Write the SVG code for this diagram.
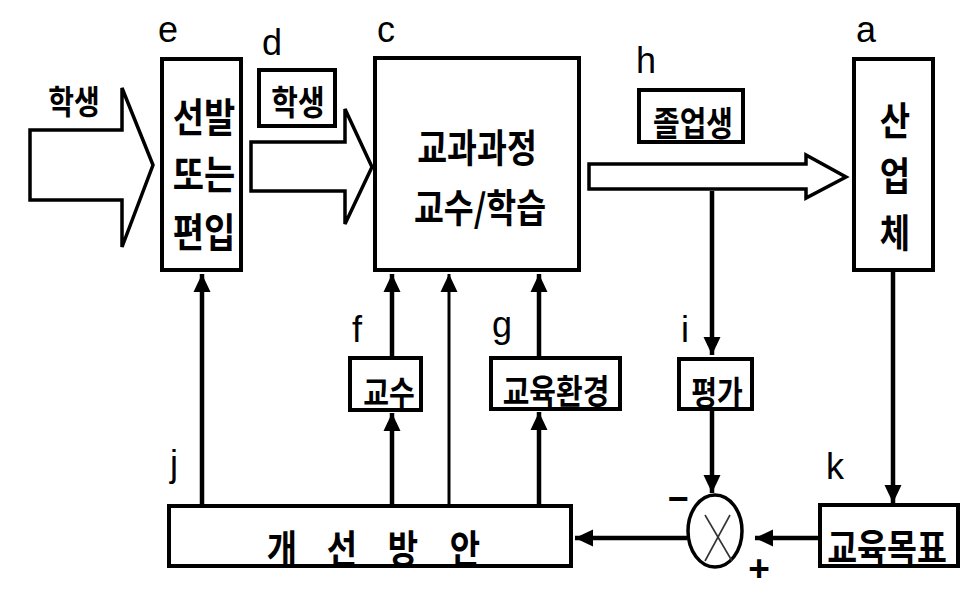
<svg xmlns="http://www.w3.org/2000/svg" width="973" height="589" viewBox="0 0 973 589">
<defs>
<style>
.bx{fill:#fff;stroke:#000;stroke-width:4}
.blk{fill:#fff;stroke:#000;stroke-width:3.5;stroke-linejoin:miter}
.ln{fill:none;stroke:#000;stroke-width:4.5}
.thin{fill:none;stroke:#000;stroke-width:3}
.ko{font-family:"Noto Sans CJK KR","Noto Sans",sans-serif;font-weight:700;text-anchor:middle;dominant-baseline:central;fill:#000}
.lt{font-family:"Liberation Sans",Arial,sans-serif;font-size:36px;text-anchor:middle;fill:#000}
.sg{font-family:"Liberation Sans",Arial,sans-serif;font-weight:700;text-anchor:middle;dominant-baseline:central;fill:#000}
</style>
<marker id="ah" markerUnits="userSpaceOnUse" markerWidth="20" markerHeight="20" refX="18" refY="9" orient="auto">
<path d="M0,0.5 L18,9 L0,17.5 Z" fill="#000"/>
</marker>
</defs>
<rect width="973" height="589" fill="#fff"/>

<g id="connectors">
<line class="ln" x1="202" y1="504" x2="202" y2="274" marker-end="url(#ah)"/>
<line class="ln" x1="392" y1="504" x2="392" y2="413" marker-end="url(#ah)"/>
<line class="ln" x1="392" y1="356" x2="392" y2="274" marker-end="url(#ah)"/>
<line class="thin" x1="449" y1="504" x2="449" y2="274" marker-end="url(#ah)"/>
<line class="ln" x1="539" y1="504" x2="539" y2="412" marker-end="url(#ah)"/>
<line class="ln" x1="539" y1="356" x2="539" y2="274" marker-end="url(#ah)"/>
<line class="ln" x1="712" y1="191" x2="712" y2="355" marker-end="url(#ah)"/>
<line class="ln" x1="712" y1="411" x2="712" y2="493" marker-end="url(#ah)"/>
<line class="ln" x1="893" y1="272" x2="893" y2="503" marker-end="url(#ah)"/>
<line class="ln" x1="818" y1="538" x2="755" y2="538" marker-end="url(#ah)"/>
<line class="ln" x1="687" y1="538" x2="575" y2="538" marker-end="url(#ah)"/>
</g>

<g id="arrow-input">
<polygon class="blk" points="30,130 122,130 122,88 153,165 122,247 122,200 30,200"/>
<text class="ko" font-size="28" transform="translate(74,99) scale(1,1.18)">학생</text>
</g>

<g id="arrow-student">
<polygon class="blk" points="251,142 345,142 345,109 372,167 345,224 345,191 251,191"/>
</g>

<g id="arrow-graduate">
<polygon class="blk" points="589,164 806,164 806,155 846,177 806,198 806,189 589,189"/>
</g>

<g id="node-e">
<rect class="bx" x="162" y="59" width="79" height="211"/>
<text class="ko" font-size="34" transform="translate(204,115) scale(1,1.18)">선발</text>
<text class="ko" font-size="34" transform="translate(204,172) scale(1,1.18)">또는</text>
<text class="ko" font-size="34" transform="translate(204,230) scale(1,1.18)">편입</text>
<text class="lt" x="168" y="42">e</text>
</g>

<g id="node-d">
<rect class="bx" x="259" y="70" width="76" height="56"/>
<text class="ko" font-size="29" transform="translate(298,100) scale(1,1.18)">학생</text>
<text class="lt" x="272" y="55">d</text>
</g>

<g id="node-c">
<rect class="bx" x="375" y="58" width="204" height="212"/>
<text class="ko" font-size="32.5" transform="translate(477,145) scale(1,1.18)">교과과정</text>
<text class="ko" font-size="32.5" transform="translate(480,205) scale(1,1.18)">교수/학습</text>
<text class="lt" x="386" y="42">c</text>
</g>

<g id="node-h">
<rect class="bx" x="639" y="90" width="104" height="52"/>
<text class="ko" font-size="29" transform="translate(693,121) scale(1,1.18)">졸업생</text>
<text class="lt" x="646" y="73">h</text>
</g>

<g id="node-a">
<rect class="bx" x="854" y="59" width="79" height="211"/>
<text class="ko" font-size="33" transform="translate(895,118) scale(1,1.18)">산</text>
<text class="ko" font-size="33" transform="translate(895,173) scale(1,1.18)">업</text>
<text class="ko" font-size="33" transform="translate(895,230) scale(1,1.18)">체</text>
<text class="lt" x="866" y="42">a</text>
</g>

<g id="node-f">
<rect class="bx" x="350" y="358" width="71" height="52"/>
<text class="ko" font-size="28" transform="translate(389,390) scale(1,1.18)">교수</text>
<text class="lt" x="357" y="342">f</text>
</g>

<g id="node-g">
<rect class="bx" x="491" y="358" width="129" height="51"/>
<text class="ko" font-size="29" transform="translate(556,389) scale(1,1.18)">교육환경</text>
<text class="lt" x="502" y="337">g</text>
</g>

<g id="node-i">
<rect class="bx" x="679" y="359" width="73" height="50"/>
<text class="ko" font-size="28" transform="translate(717,390) scale(1,1.18)">평가</text>
<text class="lt" x="685" y="342">i</text>
</g>

<g id="node-j">
<rect class="bx" x="169" y="506" width="402" height="60"/>
<text class="ko" font-size="33" transform="translate(282,546) scale(1,1.18)">개</text>
<text class="ko" font-size="33" transform="translate(342,546) scale(1,1.18)">선</text>
<text class="ko" font-size="33" transform="translate(403,546) scale(1,1.18)">방</text>
<text class="ko" font-size="33" transform="translate(465,546) scale(1,1.18)">안</text>
<text class="lt" x="174" y="476">j</text>
</g>

<g id="node-k">
<rect class="bx" x="820" y="505" width="138" height="61"/>
<text class="ko" font-size="32.5" transform="translate(887,545) scale(1,1.18)">교육목표</text>
<text class="lt" x="835" y="479">k</text>
</g>

<g id="node-sum">
<ellipse cx="715" cy="531" rx="27" ry="36" fill="#fff" stroke="#000" stroke-width="3.5"/>
<line x1="705" y1="515" x2="732" y2="561" stroke="#333" stroke-width="1.6"/>
<line x1="730" y1="515" x2="705" y2="561" stroke="#333" stroke-width="1.6"/>
<text class="sg" font-size="36" x="678" y="498">−</text>
<text class="sg" font-size="37" x="759" y="568">+</text>
</g>
</svg>
